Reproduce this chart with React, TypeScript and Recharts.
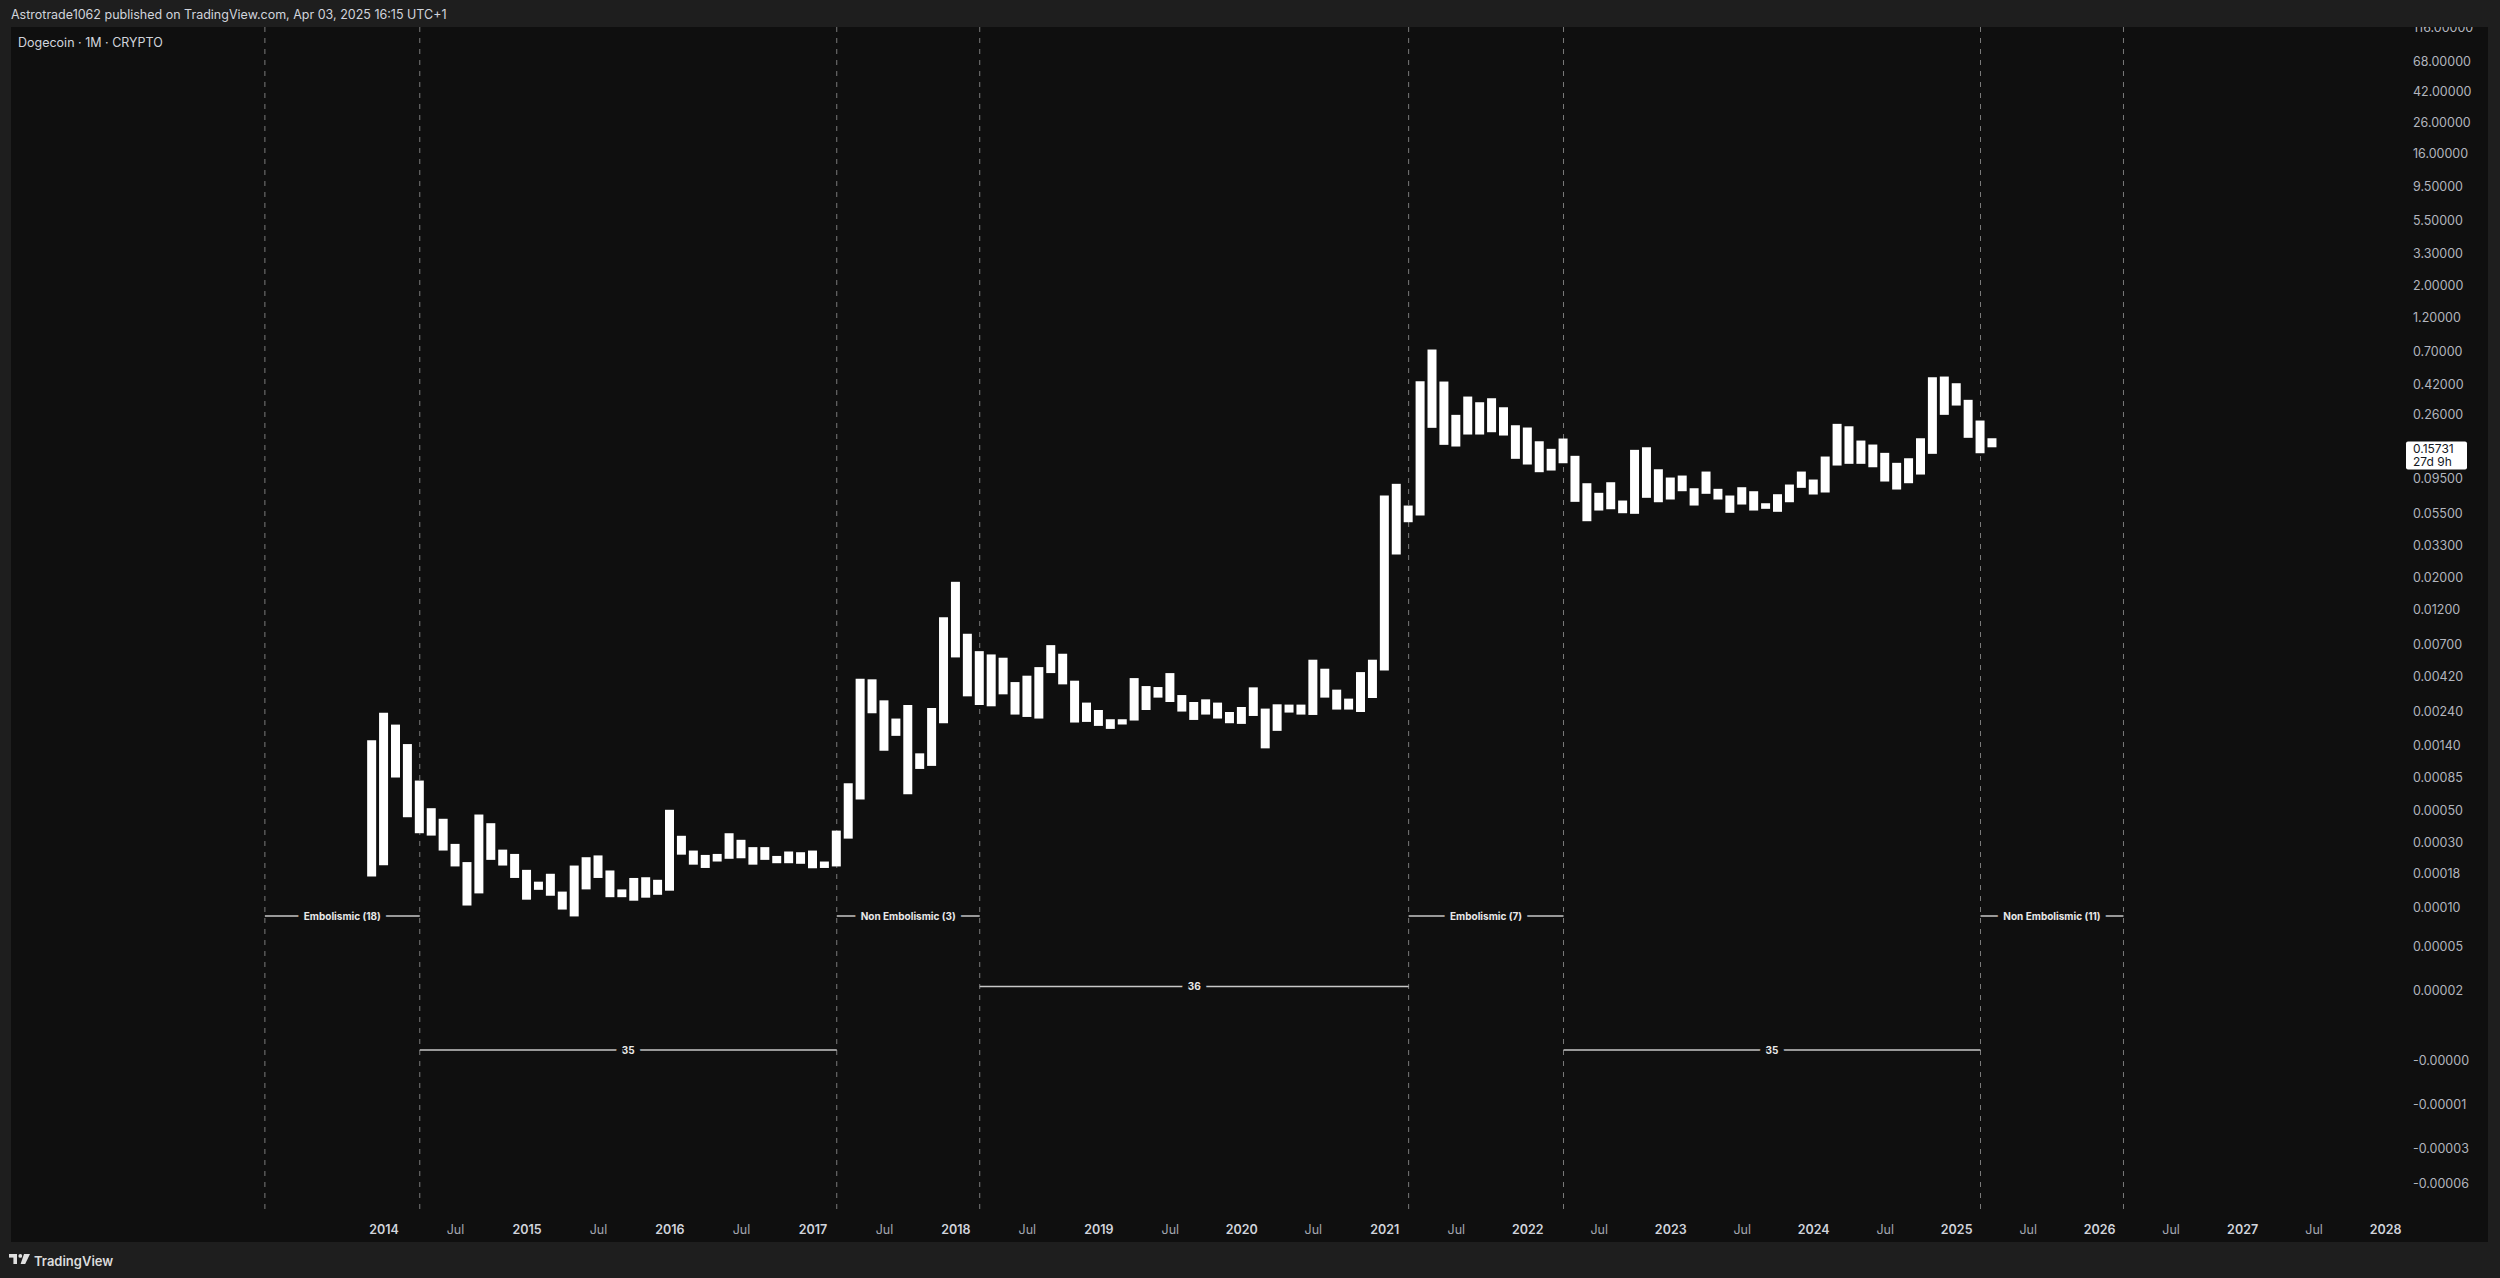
import React from 'react';
import { ComposedChart, Bar, XAxis, YAxis, ReferenceLine, CartesianGrid } from 'recharts';

// ---------- data ----------
const FIRST_BAR = '2013-12';
const highs = [
  0.00153, 0.00236, 0.00196, 0.00144, 0.000806, 0.000518, 0.000437, 0.000291, 0.000216, 0.000468, 0.000407, 0.000265, 0.000247,
  0.00019, 0.000156, 0.000178, 0.000132, 0.000204, 0.000234, 0.000241, 0.000188, 0.000137, 0.000166, 0.000168, 0.000161,
  0.000505, 0.000332, 0.000261, 0.000243, 0.000247, 0.000346, 0.000311, 0.000276, 0.000276, 0.000239, 0.000257, 0.000254,
  0.000261, 0.000218, 0.000361, 0.000772, 0.00405, 0.00401, 0.002877, 0.002157, 0.002672, 0.001243, 0.002549, 0.01069,
  0.01866, 0.008228, 0.006255, 0.005938, 0.005639, 0.003839, 0.004246, 0.004862, 0.006878, 0.006004, 0.003924, 0.002776,
  0.00247, 0.002134, 0.002134, 0.004088, 0.003605, 0.003549, 0.004424, 0.003128, 0.002802, 0.002923, 0.002776, 0.002393,
  0.002589, 0.003532, 0.002525, 0.002702, 0.002689, 0.002689, 0.005464, 0.004741, 0.003406, 0.002956, 0.004494, 0.005464,
  0.07267, 0.08736, 0.06205, 0.4397, 0.7245, 0.4375, 0.2589, 0.3454, 0.3158, 0.3363, 0.2918, 0.2198,
  0.212, 0.1708, 0.1516, 0.1783, 0.1358, 0.08819, 0.07582, 0.08958, 0.06714, 0.1492, 0.1554, 0.1099,
  0.09647, 0.09954, 0.0815, 0.106, 0.08074, 0.07267, 0.08281, 0.07775, 0.06435, 0.07418, 0.0864, 0.106,
  0.09348, 0.1343, 0.2247, 0.2163, 0.1727, 0.1622, 0.1423, 0.1216, 0.1307, 0.1791, 0.4681, 0.4733,
  0.426, 0.328, 0.2367, 0.1791,
];
const lows = [
  0.00017, 0.000205, 0.000846, 0.000448, 0.000346, 0.000333, 0.000261, 0.000201, 0.000104, 0.000128, 0.000224, 0.000204, 0.000166,
  0.000115, 0.000136, 0.000123, 0.000097, 0.000086, 0.000137, 0.000166, 0.00012, 0.00012, 0.000113, 0.000119, 0.000125,
  0.000134, 0.000244, 0.000207, 0.000196, 0.000218, 0.000228, 0.00023, 0.000207, 0.000224, 0.000212, 0.000212, 0.00021,
  0.000195, 0.000196, 0.000201, 0.000317, 0.000595, 0.002345, 0.001295, 0.00164, 0.000648, 0.00097, 0.001018, 0.002003,
  0.005664, 0.003064, 0.002672, 0.002618, 0.003163, 0.002297, 0.002212, 0.002157, 0.004424, 0.003702, 0.002025, 0.002045,
  0.00192, 0.001831, 0.001963, 0.00209, 0.00247, 0.003003, 0.002802, 0.002409, 0.00211, 0.002297, 0.002157, 0.002003,
  0.001982, 0.002247, 0.001345, 0.001775, 0.002371, 0.002297, 0.002283, 0.003003, 0.002486, 0.002486, 0.002393, 0.002984,
  0.004616, 0.02869, 0.04771, 0.05302, 0.211, 0.1614, 0.1572, 0.1899, 0.1899, 0.1969, 0.1869, 0.1295,
  0.1184, 0.1049, 0.1077, 0.1208, 0.06577, 0.04847, 0.05735, 0.05854, 0.05498, 0.05446, 0.07007, 0.06536,
  0.06823, 0.07775, 0.06205, 0.07464, 0.06823, 0.05533, 0.06305, 0.05735, 0.05892, 0.05621, 0.06536, 0.08201,
  0.07382, 0.07619, 0.1165, 0.1197, 0.1197, 0.1134, 0.09057, 0.07985, 0.08819, 0.1011, 0.1401, 0.2589,
  0.2997, 0.1803, 0.1414, 0.1553,
];
const LAST_PRICE = 0.15731;
const COUNTDOWN = '27d 9h';

const axisYears = [2014, 2015, 2016, 2017, 2018, 2019, 2020, 2021, 2022, 2023, 2024, 2025, 2026, 2027, 2028];
const priceTickLabels = [
  '116.00000', '68.00000', '42.00000', '26.00000', '16.00000', '9.50000', '5.50000', '3.30000', '2.00000', '1.20000',
  '0.70000', '0.42000', '0.26000', '0.09500', '0.05500', '0.03300', '0.02000', '0.01200', '0.00700', '0.00420',
  '0.00240', '0.00140', '0.00085', '0.00050', '0.00030', '0.00018', '0.00010', '0.00005', '0.00002',
  '-0.00000', '-0.00001', '-0.00003', '-0.00006',
];

const cycleMarkers = ['2013-03', '2014-04', '2017-03', '2018-03', '2021-03', '2022-04', '2025-03', '2026-03'];

const phaseLabels = ['Embolismic (18)', 'Non Embolismic (3)', 'Embolismic (7)', 'Non Embolismic (11)'];
const phaseStarts = ['2013-03', '2017-03', '2021-03', '2025-03'];
const phaseEnds = ['2014-04', '2018-03', '2022-04', '2026-03'];
const PHASE_LEVEL = 0.0000867;

const countLabels = ['35', '36', '35'];
const countStarts = ['2014-04', '2018-03', '2022-04'];
const countEnds = ['2017-03', '2021-03', '2025-03'];
const countLevels = [0.0000017, 0.0000219, 0.0000017];

// ---------- helpers ----------
const FONT = "Inter, Roboto, 'Noto Sans', Arial, sans-serif";
const PANE_BG = '#0f0f0f';
const FRAME_BG = '#1e1e1e';
const LOG_EPS = 0.00001;
const toScale = (p: number) => Math.sign(p) * Math.log10(1 + Math.abs(p) / LOG_EPS);
const monthIndex = (ym: string) => {
  const [y, m] = ym.split('-').map(Number);
  return (y - 2014) * 12 + (m - 1);
};

const firstIdx = monthIndex(FIRST_BAR);
const rows = highs.map((h, i) => ({ m: firstIdx + i, range: [toScale(lows[i]), toScale(h)] }));

const timeTicks: number[] = [];
axisYears.forEach((y, i) => {
  timeTicks.push((y - 2014) * 12);
  if (i < axisYears.length - 1) timeTicks.push((y - 2014) * 12 + 6);
});
const priceTickValues = priceTickLabels.map((l) => toScale(parseFloat(l)));
const markerValues = cycleMarkers.map(monthIndex);

const X_DOMAIN: [number, number] = [-31.31, 169.21];
const Y_DOMAIN: [number, number] = [-1.0393, 7.066];

const PriceTick = (props: any) => {
  const { x, y, payload } = props;
  let best = priceTickLabels[0];
  let d = Infinity;
  priceTickLabels.forEach((l, i) => {
    const dd = Math.abs(priceTickValues[i] - payload.value);
    if (dd < d) { d = dd; best = l; }
  });
  return (
    <text x={x} y={y} fill="#b2b5be" fontSize={12.5} fontFamily={FONT} dominantBaseline="central" textAnchor="start">
      {best}
    </text>
  );
};

const TimeTick = (props: any) => {
  const { x, y, payload } = props;
  const m = payload.value as number;
  const isYear = ((m % 12) + 12) % 12 === 0;
  const label = isYear ? String(2014 + m / 12) : 'Jul';
  return (
    <text x={x} y={y} textAnchor="middle" dominantBaseline="central" fontFamily={FONT}
      fontSize={12.5} fontWeight={isYear ? 600 : 400} fill={isYear ? '#d1d4dc' : '#a3a6af'}>
      {label}
    </text>
  );
};

const spanLabel = (text: string) => (props: any) => {
  const vb = props.viewBox || {};
  const cx = vb.x + (vb.width || 0) / 2;
  const cy = vb.y + (vb.height || 0) / 2;
  return (
    <text x={cx} y={cy} textAnchor="middle" dominantBaseline="central" fontFamily={FONT} fontSize={10}
      fontWeight={700} fill="#e8e8e8" stroke={PANE_BG} strokeWidth={12} strokeLinejoin="round"
      style={{ paintOrder: 'stroke' }}>
      {text}
    </text>
  );
};

const priceBox = (props: any) => {
  const vb = props.viewBox || {};
  const bx = vb.x + vb.width + 6;
  const py = vb.y;
  return (
    <g>
      <rect x={bx} y={py - 5} width={61} height={28} fill="#ffffff" rx={2} />
      <text x={bx + 7} y={py + 2} fontFamily={FONT} fontSize={12} fill="#131722" dominantBaseline="central">
        {LAST_PRICE.toFixed(5)}
      </text>
      <text x={bx + 7} y={py + 15} fontFamily={FONT} fontSize={12} fill="#131722" dominantBaseline="central">
        {COUNTDOWN}
      </text>
    </g>
  );
};

const PANE_W = 2477;
const PANE_H = 1215;

export default function App() {
  return (
    <div style={{ position: 'absolute', left: 0, top: 0, width: 2500, height: 1278, background: FRAME_BG, overflow: 'hidden', fontFamily: FONT }}>
      <div style={{ position: 'absolute', left: 11, top: 5, height: 20, lineHeight: '20px', fontSize: 12.5, color: '#d1d4dc', whiteSpace: 'nowrap' }}>
        Astrotrade1062 published on TradingView.com, Apr 03, 2025 16:15 UTC+1
      </div>
      <div style={{ position: 'absolute', left: 11, top: 27, width: PANE_W, height: PANE_H, background: PANE_BG }}>
        <ComposedChart width={PANE_W} height={PANE_H} data={rows} margin={{ top: 0, right: 0, bottom: 0, left: 0 }}>
          <CartesianGrid horizontal={false} vertical verticalValues={markerValues} stroke="#7a7a7a"
            strokeWidth={1} strokeDasharray="5 6" />
          <XAxis dataKey="m" type="number" domain={X_DOMAIN} allowDataOverflow ticks={timeTicks} interval={0}
            axisLine={false} tickLine={false} tickSize={0} tickMargin={17} height={30} tick={<TimeTick />} />
          <YAxis type="number" orientation="right" domain={Y_DOMAIN} allowDataOverflow ticks={priceTickValues}
            interval={0} axisLine={false} tickLine={false} tickSize={0} tickMargin={13} width={88} tick={<PriceTick />} />
          {phaseLabels.map((l, i) => (
            <ReferenceLine key={l + i}
              segment={[{ x: monthIndex(phaseStarts[i]), y: toScale(PHASE_LEVEL) }, { x: monthIndex(phaseEnds[i]), y: toScale(PHASE_LEVEL) }]}
              stroke="#c8c8c8" strokeWidth={1.5} ifOverflow="visible" label={spanLabel(l)} />
          ))}
          {countLabels.map((l, i) => (
            <ReferenceLine key={'c' + i}
              segment={[{ x: monthIndex(countStarts[i]), y: toScale(countLevels[i]) }, { x: monthIndex(countEnds[i]), y: toScale(countLevels[i]) }]}
              stroke="#c8c8c8" strokeWidth={1.5} ifOverflow="visible" label={spanLabel(l)} />
          ))}
          <Bar dataKey="range" barSize={9} fill="#ffffff" isAnimationActive={false} />
          <ReferenceLine y={toScale(LAST_PRICE)} stroke="none" ifOverflow="visible" label={priceBox} />
        </ComposedChart>
        <div style={{ position: 'absolute', left: 7, top: 6, height: 20, lineHeight: '20px', fontSize: 12.5, color: '#d1d4dc', whiteSpace: 'nowrap' }}>
          Dogecoin · 1M · CRYPTO
        </div>
      </div>
      <svg style={{ position: 'absolute', left: 9, top: 1254 }} width={22} height={11}>
        <rect x={0} y={0} width={8} height={3.6} fill="#e0e0e0" />
        <rect x={4.4} y={0} width={3.6} height={10} fill="#e0e0e0" />
        <circle cx={11.3} cy={1.9} r={1.9} fill="#e0e0e0" />
        <polygon points="15,0 21,0 16.2,10 11.6,10" fill="#e0e0e0" />
      </svg>
      <div style={{ position: 'absolute', left: 34, top: 1251, height: 20, lineHeight: '20px', fontSize: 13, fontWeight: 600, color: '#dcdcdc' }}>
        TradingView
      </div>
    </div>
  );
}
